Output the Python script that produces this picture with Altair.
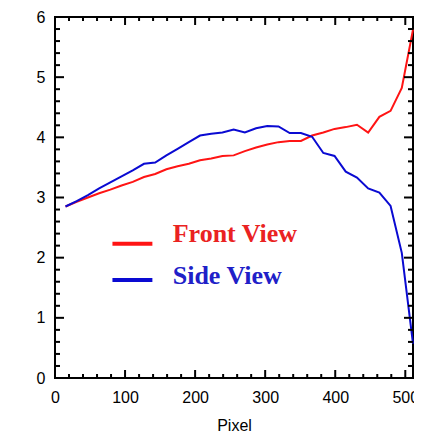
import altair as alt
import pandas as pd

# ---- data ----
pixel = [15, 31, 47, 63, 79, 95, 111, 127, 143, 159, 175, 191, 207, 223, 239, 255,
         271, 287, 303, 319, 335, 351, 367, 383, 399, 415, 431, 447, 463, 479, 495, 511]
front_view = [2.85, 2.93, 3.00, 3.07, 3.13, 3.20, 3.26, 3.34, 3.39, 3.47, 3.52, 3.56,
              3.62, 3.65, 3.69, 3.70, 3.77, 3.83, 3.88, 3.92, 3.94, 3.94, 4.03, 4.08,
              4.14, 4.17, 4.21, 4.08, 4.34, 4.44, 4.82, 5.79]
side_view = [2.85, 2.94, 3.04, 3.15, 3.25, 3.35, 3.45, 3.56, 3.58, 3.70, 3.81, 3.92,
             4.03, 4.06, 4.08, 4.13, 4.08, 4.15, 4.19, 4.18, 4.07, 4.07, 4.01, 3.74,
             3.69, 3.43, 3.33, 3.15, 3.08, 2.86, 2.08, 0.57]

series_names = ["Front View", "Side View"]
line_colors = ["#ff1414", "#0a0ad2"]
text_colors = ["#ea2222", "#2020c8"]

x_major = [0, 100, 200, 300, 400, 500]
x_minor = [20, 40, 60, 80, 120, 140, 160, 180, 220, 240, 260, 280,
           320, 340, 360, 380, 420, 440, 460, 480]
y_major = [0, 1, 2, 3, 4, 5, 6]
y_minor = [0.2, 0.4, 0.6, 0.8, 1.2, 1.4, 1.6, 1.8, 2.2, 2.4, 2.6, 2.8,
           3.2, 3.4, 3.6, 3.8, 4.2, 4.4, 4.6, 4.8, 5.2, 5.4, 5.6, 5.8]

# legend placement (data units)
legend_x1 = [82, 82]
legend_x2 = [139, 139]
legend_line_y = [2.23, 1.63]
legend_text_x = [168, 168]
legend_text_y = [2.26, 1.56]

W, H = 358, 361

xscale = alt.Scale(domain=[0, 511], nice=False, zero=False)
yscale = alt.Scale(domain=[0, 6], nice=False, zero=False)

df = pd.DataFrame({
    "Pixel": pixel * 2,
    "value": front_view + side_view,
    "series": [series_names[0]] * len(pixel) + [series_names[1]] * len(pixel),
})

lines = alt.Chart(df).mark_line(strokeWidth=2).encode(
    x=alt.X("Pixel:Q", scale=xscale,
            axis=alt.Axis(values=x_major, format="d", tickSize=0, domain=False, grid=False,
                          labelFontSize=16, labelFont="Liberation Sans", labelColor="black",
                          labelPadding=11, title="Pixel", titleFont="Liberation Sans",
                          titleFontSize=16, titleFontWeight="normal", titleColor="black",
                          titlePadding=12, labelFlush=False)),
    y=alt.Y("value:Q", scale=yscale,
            axis=alt.Axis(values=y_major, format="d", tickSize=0, domain=False, grid=False,
                          labelFontSize=16, labelFont="Liberation Sans", labelColor="black",
                          labelPadding=10, title=None, labelFlush=False)),
    color=alt.Color("series:N", scale=alt.Scale(domain=series_names, range=line_colors),
                    legend=None),
    detail="series:N",
)

tick_w = 2
xmaj_df = pd.DataFrame({"t": x_major})
xmin_df = pd.DataFrame({"t": x_minor})
ymaj_df = pd.DataFrame({"t": y_major})
ymin_df = pd.DataFrame({"t": y_minor})


def xticks(d, length):
    bottom = alt.Chart(d).mark_rule(color="black", strokeWidth=tick_w).encode(
        x=alt.X("t:Q", scale=xscale, axis=None),
        y=alt.value(H), y2=alt.value(H - length))
    top = alt.Chart(d).mark_rule(color="black", strokeWidth=tick_w).encode(
        x=alt.X("t:Q", scale=xscale, axis=None),
        y=alt.value(0), y2=alt.value(length))
    return [bottom, top]


def yticks(d, length):
    left = alt.Chart(d).mark_rule(color="black", strokeWidth=tick_w).encode(
        y=alt.Y("t:Q", scale=yscale, axis=None),
        x=alt.value(0), x2=alt.value(length))
    right = alt.Chart(d).mark_rule(color="black", strokeWidth=tick_w).encode(
        y=alt.Y("t:Q", scale=yscale, axis=None),
        x=alt.value(W), x2=alt.value(W - length))
    return [left, right]


tick_layers = xticks(xmaj_df, 8) + xticks(xmin_df, 4) + yticks(ymaj_df, 9) + yticks(ymin_df, 5)

leg_df = pd.DataFrame({
    "series": series_names,
    "x1": legend_x1, "x2": legend_x2, "ly": legend_line_y,
    "tx": legend_text_x, "ty": legend_text_y,
})

leg_lines = alt.Chart(leg_df).mark_rule(strokeWidth=4).encode(
    x=alt.X("x1:Q", scale=xscale, axis=None),
    x2="x2:Q",
    y=alt.Y("ly:Q", scale=yscale, axis=None),
    color=alt.Color("series:N", scale=alt.Scale(domain=series_names, range=line_colors),
                    legend=None),
)

leg_text = alt.Chart(leg_df).mark_text(
    align="left", baseline="alphabetic", font="Liberation Serif",
    fontWeight="bold", fontSize=26,
).encode(
    x=alt.X("tx:Q", scale=xscale, axis=None),
    y=alt.Y("ty:Q", scale=yscale, axis=None),
    text="series:N",
    color=alt.Color("series:N", scale=alt.Scale(domain=series_names, range=text_colors),
                    legend=None),
)

chart = alt.layer(lines, *tick_layers, leg_lines, leg_text).resolve_scale(
    color="independent"
).resolve_axis(
    x="independent", y="independent"
).properties(
    width=W, height=H,
    autosize=alt.AutoSizeParams(type="none"),
    padding={"left": 47, "top": 9, "right": 1, "bottom": 57},
).configure(background="white").configure_view(
    stroke="black", strokeWidth=2
)

chart.save("out.html", embed_options={"renderer": "svg", "actions": False})
